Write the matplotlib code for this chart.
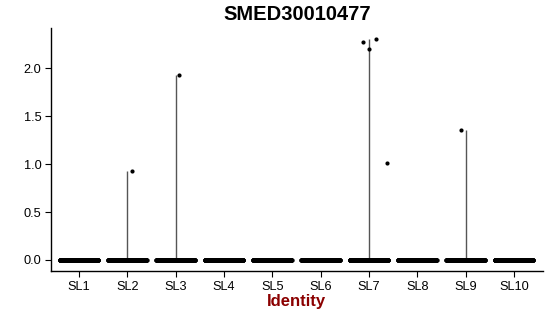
import numpy as np
import matplotlib
matplotlib.use("Agg")
import matplotlib.pyplot as plt

plt.rcParams['font.family'] = ['Liberation Sans', 'DejaVu Sans']

# clusters on the x axis
clusters = ["SL1", "SL2", "SL3", "SL4", "SL5", "SL6", "SL7", "SL8", "SL9", "SL10"]

# number of cells with zero expression in each cluster (dense band at 0)
n_zero = [220, 220, 220, 220, 220, 220, 220, 220, 220, 220]

# cells with non-zero expression: (cluster index, value)
expr_cluster = [1, 2, 6, 6, 6, 6, 8]
expr_value = [0.93, 1.93, 2.27, 2.30, 2.20, 1.01, 1.35]
# horizontal jitter of those points (fraction of category spacing)
expr_jitter = [0.10, 0.07, -0.13, 0.14, 0.01, 0.37, -0.09]

fig = plt.figure(figsize=(5.5, 3.16), dpi=100)
ax = fig.add_axes([0.0927, 0.1424, 0.8943, 0.7686])

# violin tails: thin line from 0 up to the max of each cluster
for i in range(len(clusters)):
    vals = [v for c, v in zip(expr_cluster, expr_value) if c == i]
    if vals:
        ax.vlines(i, 0, max(vals), color="#555555", lw=1.0, zorder=1)

# zero-valued cells, spread across the category width
for i, n in enumerate(n_zero):
    offs = np.linspace(-0.4, 0.4, n)
    ax.scatter(i + offs, np.zeros(n), s=10, color="black", linewidths=0, zorder=2)

ax.scatter(np.array(expr_cluster) + np.array(expr_jitter), expr_value,
           s=9, color="black", linewidths=0, zorder=3)

ax.set_xlim(-0.58, 9.6)
ax.set_ylim(-0.115, 2.417)
ax.set_xticks(range(len(clusters)))
ax.set_xticklabels(clusters)
ax.set_yticks([0.0, 0.5, 1.0, 1.5, 2.0])
ax.set_yticklabels(["0.0", "0.5", "1.0", "1.5", "2.0"])
ax.tick_params(axis="both", labelsize=9.2, length=4, width=0.8, color="black",
               labelcolor="black", pad=3)

for s in ["top", "right"]:
    ax.spines[s].set_visible(False)
for s in ["left", "bottom"]:
    ax.spines[s].set_linewidth(1.0)
    ax.spines[s].set_color("black")

ax.set_title("SMED30010477", fontsize=14.5, fontweight="bold", pad=6)
ax.set_xlabel("Identity", fontsize=12, fontweight="bold", color="#8B0000", labelpad=1)

fig.savefig("out.png", dpi=100)
